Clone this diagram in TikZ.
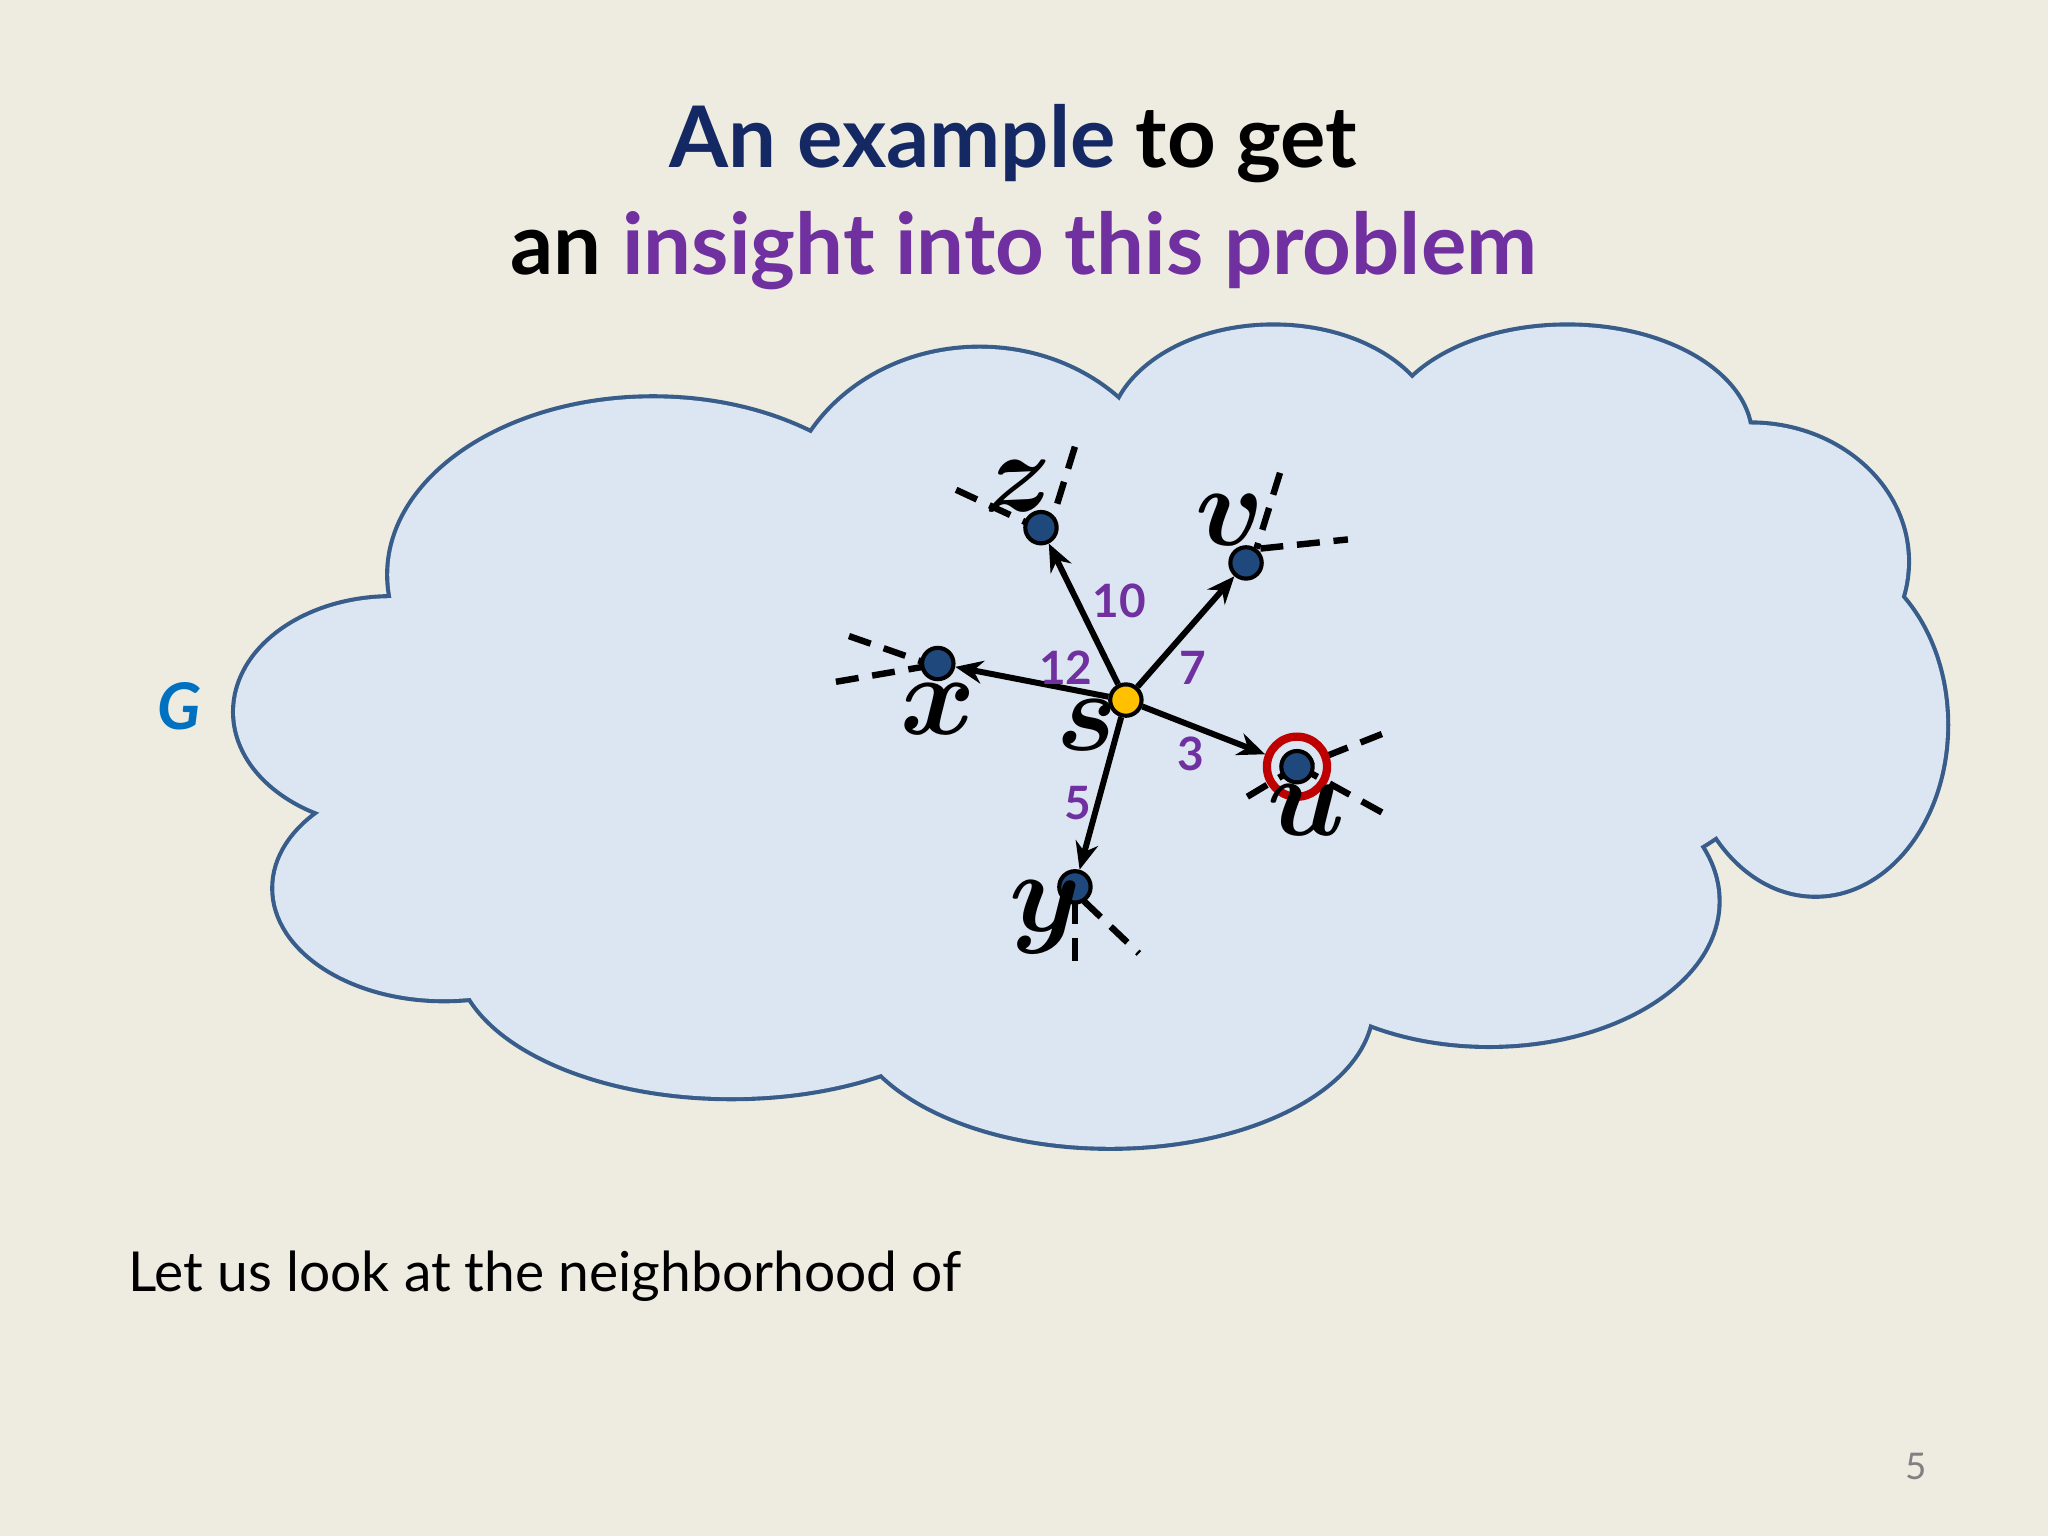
\documentclass[tikz,border=0pt]{standalone}
\usepackage{fontspec}
\setmainfont{Lato}
\usepackage{amsmath,bm}
\usetikzlibrary{arrows.meta}
\definecolor{bg}{RGB}{238,236,225}
\definecolor{cloudfill}{RGB}{220,230,242}
\definecolor{cloudline}{RGB}{56,93,138}
\definecolor{navy}{RGB}{20,40,100}
\definecolor{purp}{RGB}{112,48,160}
\definecolor{gblue}{RGB}{0,112,192}
\definecolor{vblue}{RGB}{31,73,125}
\definecolor{sgold}{RGB}{255,192,0}
\begin{document}
\begin{tikzpicture}[x=0.01cm,y=-0.01cm,
  vert/.style={circle,draw=black,line width=0.9pt,fill=vblue,minimum size=0.24cm,inner sep=0},
  lbl/.style={text=purp,font=\fontsize{10}{12}\selectfont\bfseries},
  edge/.style={line width=1.3pt,-{Stealth[length=6pt,width=5pt]}},
  stub/.style={line width=1.4pt,dash pattern=on 5pt off 3pt},
  letter/.style={font=\fontsize{26}{30}\selectfont}]
\fill[bg] (0,0) rectangle (1568,1176);
\useasboundingbox (0,0) rectangle (1568,1176);
\def\cloud#1{
 #1 (340,680) ellipse [x radius=130,y radius=85];
 #1 (300,545) ellipse [x radius=120,y radius=87];
 #1 (500,440) ellipse [x radius=202,y radius=135];
 #1 (750,400) ellipse [x radius=150,y radius=133];
 #1 (975,335) ellipse [x radius=125,y radius=85];
 #1 (1200,335) ellipse [x radius=140,y radius=85];
 #1 (1340,430) ellipse [x radius=120,y radius=105];
 #1 (1390,555) ellipse [x radius=100,y radius=130];
 #1 (1140,690) ellipse [x radius=175,y radius=110];
 #1 (850,770) ellipse [x radius=200,y radius=108];
 #1 (560,730) ellipse [x radius=210,y radius=110];
 #1 (800,560) ellipse [x radius=420,y radius=200];
 #1 (1100,500) ellipse [x radius=300,y radius=200];
}
\cloud{\draw[cloudline,line width=1.8pt]}
\cloud{\fill[cloudfill]}
\node[font=\fontsize{18.5}{22}\selectfont\bfseries] (t1) at (776,110) {\textcolor{navy}{An example} to get};
\node[font=\fontsize{18.5}{22}\selectfont\bfseries] (t2) at (784,192) {an \textcolor{purp}{insight into this problem}};
\node[text=gblue,font=\fontsize{14}{16}\selectfont\bfseries\itshape] (G) at (137,541) {G};
\node[anchor=west,font=\fontsize{12}{15}\selectfont] (txt) at (86,977) {Let us look at the neighborhood of};
\node[text=gray,font=\fontsize{8}{10}\selectfont] (pg) at (1467,1123) {5};
% stubs
\draw[stub] (732,375) -- (790,402); \draw[stub] (823,342) -- (805,400);
\draw[stub] (980,362) -- (962,420); \draw[stub] (965,420) -- (1032,413);
\draw[stub] (650,487) -- (710,508); \draw[stub] (640,522) -- (710,510);
\draw[stub] (1058,562) -- (1000,585); \draw[stub] (1058,622) -- (1000,590); \draw[stub] (955,610) -- (985,592);
\draw[stub] (823,690) -- (823,745); \draw[stub] (830,690) -- (872,730);
\node[vert] (z) at (797,404) {};
\node[vert] (v) at (954,431) {};
\node[vert] (x) at (718,508) {};
\node[vert] (u) at (993,587) {};
\node[vert] (y) at (823,679) {};
\node[circle,draw=red!75!black,line width=1.8pt,minimum size=0.46cm] (uc) at (993,587) {};
\node[circle,draw=black,line width=0.9pt,fill=sgold,minimum size=0.24cm,inner sep=0] (s) at (862,536) {};
\draw[edge] (s) -- (z); \draw[edge] (s) -- (v); \draw[edge] (s) -- (x);
\draw[edge] (s) -- (uc); \draw[edge] (s) -- (y);
\node[lbl] (l10) at (857,460) {10};
\node[lbl] (l7) at (913,511) {7};
\node[lbl] (l12) at (816,511) {12};
\node[lbl] (l3) at (912,577) {3};
\node[lbl] (l5) at (825,615) {5};
\node[letter] (lz) at (780,372) {$\bm{z}$};
\node[letter] (lv) at (942,398) {$\bm{v}$};
\node[letter] (lx) at (718,543) {$\bm{x}$};
\node[letter] (ls) at (832,555) {$\bm{s}$};
\node[letter] (lu) at (1000,620) {$\bm{u}$};
\node[letter] (ly) at (800,702) {$\bm{y}$};
\end{tikzpicture}
\end{document}
